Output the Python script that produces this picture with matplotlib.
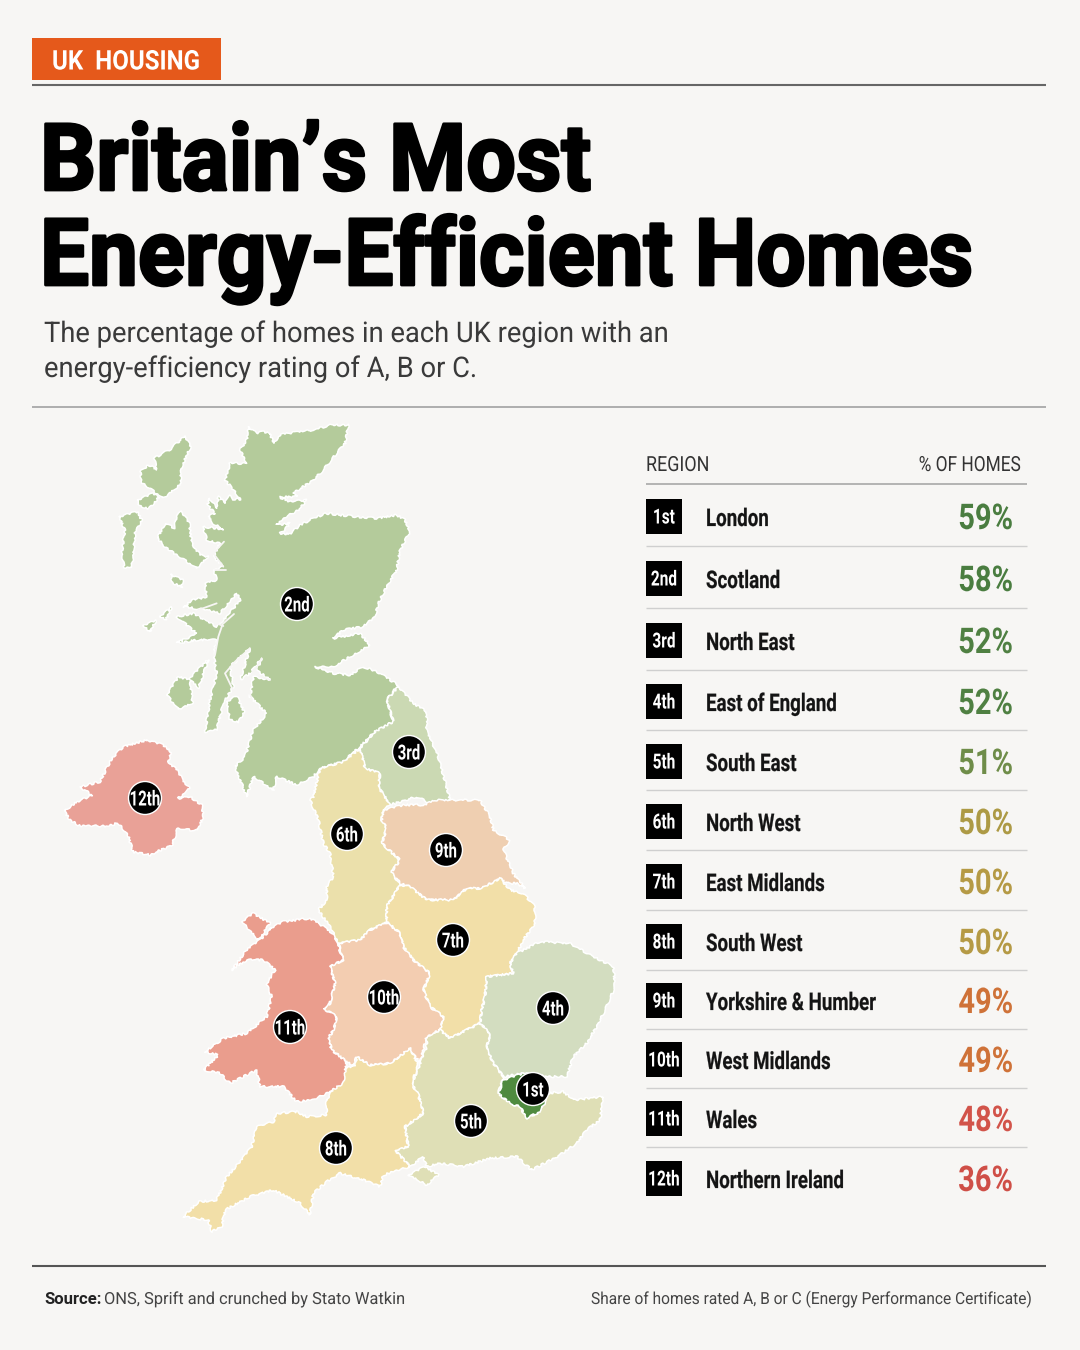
"""Britain's most energy-efficient homes: map and ranking table."""

import matplotlib
matplotlib.use("Agg")
import matplotlib.pyplot as plt
from matplotlib.patches import Circle, Polygon, Rectangle
from matplotlib.patheffects import AbstractPathEffect
from matplotlib.transforms import Affine2D

REGIONS = ["London", "Scotland", "North East", "East of England", "South East", "North West",
           "East Midlands", "South West", "Yorkshire & Humber", "West Midlands", "Wales",
           "Northern Ireland"]
RANKS = ["1st", "2nd", "3rd", "4th", "5th", "6th", "7th", "8th", "9th", "10th", "11th", "12th"]
SHARES = [59, 58, 52, 52, 51, 50, 50, 50, 49, 49, 48, 36]
SHARE_COLORS = ["#4a7d40", "#4a7d40", "#4f8042", "#4f8042", "#6f8d49", "#ad9a45", "#b59a45",
                "#b59a45", "#cf7238", "#cf7238", "#d2544a", "#cf4f47"]


def z1(pts):
    return [(50 + x / 3, 410 + y / 3) for x, y in pts]


def z2(pts):
    return [(170 + x / 3, 800 + y / 3) for x, y in pts]


# contornos del mapa, en píxeles de la imagen
SCOTLAND = z1([(595, 50), (620, 70), (640, 65), (660, 70), (670, 100), (690, 75), (740, 65), (790, 60),
               (840, 45), (895, 45), (885, 100), (860, 130), (820, 180), (790, 210), (745, 240), (730, 245),
               (740, 260), (690, 262), (720, 275), (770, 270), (745, 300), (710, 320), (680, 345), (720, 340),
               (700, 365), (690, 370), (720, 372), (750, 345), (790, 325), (830, 310), (870, 315), (920, 320),
               (980, 325), (1040, 315), (1065, 330), (1080, 365), (1050, 420), (1040, 480), (1010, 530),
               (985, 580), (975, 620), (940, 650), (880, 660), (850, 685), (900, 675), (930, 670), (960, 705),
               (900, 740), (850, 770), (795, 770), (850, 790), (900, 795), (940, 770), (980, 785), (1045, 825),
               (1010, 870), (1030, 935), (975, 965), (930, 1010), (880, 1055), (810, 1075), (790, 1100),
               (740, 1125), (680, 1100), (670, 1140), (610, 1100), (590, 1160), (555, 1070), (575, 1050),
               (585, 1040), (610, 960), (650, 910), (600, 860), (610, 800), (660, 810), (620, 780), (635, 745),
               (600, 790), (570, 810), (600, 715), (540, 770), (550, 830), (520, 880), (500, 960), (465, 965),
               (480, 870), (500, 790), (490, 730), (500, 690), (440, 690), (380, 700), (440, 670), (380, 620),
               (430, 610), (500, 650), (530, 620), (570, 570), (560, 550), (510, 610), (470, 600), (400, 590),
               (430, 570), (470, 560), (465, 520), (500, 510), (490, 480), (520, 470), (490, 440), (510, 400),
               (470, 390), (460, 350), (520, 358), (490, 340), (475, 320), (495, 310), (472, 285), (478, 265),
               (500, 295), (505, 258), (525, 280), (535, 255), (550, 268), (572, 268), (555, 245), (525, 210),
               (540, 160), (590, 160), (570, 120), (590, 90)])
SCOTLAND_ISLES = [
    z1([(405, 78), (422, 110), (395, 170), (390, 225), (340, 265), (305, 240), (272, 215), (272, 185),
        (295, 165), (320, 178), (312, 145), (360, 118)]),
    z1([(262, 270), (310, 250), (328, 260), (295, 298), (268, 285)]),
    z1([(395, 305), (418, 340), (425, 400), (450, 435), (475, 440), (440, 475), (380, 435), (350, 415),
        (322, 385), (345, 340), (375, 355), (378, 318)]),
    z1([(207, 320), (262, 305), (275, 330), (255, 370), (250, 440), (245, 472), (222, 472), (215, 430),
        (225, 360)]),
    z1([(350, 855), (385, 800), (420, 810), (428, 880), (385, 898)]),
    z1([(418, 805), (475, 748), (445, 835)]),
    z1([(530, 875), (560, 858), (582, 905), (565, 938), (538, 925)]),
    z1([(330, 618), (365, 592), (348, 628)]),
    z1([(280, 645), (318, 632), (300, 665)]),
    z1([(362, 493), (398, 510), (395, 532), (368, 518)]),
]
# entradas de mar dibujadas en blanco sobre Escocia
SEA_LOCHS = [
    z1([(552, 612), (518, 642), (505, 680), (495, 735)]),
    z1([(440, 610), (480, 632), (520, 648)]),
    z1([(600, 715), (555, 755), (525, 790), (550, 842)]),
    z1([(635, 745), (610, 790), (660, 810)]),
    z1([(610, 782), (592, 830), (604, 862)]),
    z1([(560, 800), (580, 825)]),
    z1([(522, 395), (490, 430), (520, 470)]),
    z1([(495, 480), (527, 480)]),
    z1([(500, 580), (445, 600)]),
]
NORTH_EAST = z1([(1045, 830), (1090, 880), (1130, 905), (1130, 960), (1165, 1040), (1200, 1170), (1150, 1185),
                 (1100, 1160), (1020, 1185), (985, 1130), (990, 1090), (945, 1075), (930, 1015), (975, 965),
                 (1030, 935), (1010, 870)])
NORTH_WEST = z1([(930, 1015), (945, 1075), (990, 1090), (985, 1130), (1020, 1185)]) + \
    z2([(640, 30), (635, 60), (650, 85), (635, 130), (690, 180), (665, 215), (690, 255), (650, 320), (650, 368),
        (600, 390), (570, 420), (505, 430), (480, 380), (445, 330), (470, 300), (470, 260), (490, 230),
        (480, 160), (460, 130), (445, 60), (420, 0)]) + \
    z1([(790, 1160), (810, 1075), (880, 1055)])
YORKSHIRE = z2([(640, 30), (700, 15), (760, 15), (800, 0), (930, 0), (960, 50), (970, 90), (1020, 120), (1000, 150),
                (1030, 220), (1065, 265), (1040, 250), (1010, 250), (990, 235), (935, 265), (890, 265), (850, 300),
                (770, 300), (720, 260), (690, 250), (665, 215), (690, 180), (635, 130), (650, 85), (635, 60)])
EAST_MIDLANDS = z2([(690, 255), (720, 260), (770, 300), (850, 300), (890, 265), (935, 265), (990, 235), (1020, 270),
                    (1060, 280), (1095, 320), (1095, 370), (1060, 420), (1040, 460), (1020, 490), (1030, 520),
                    (950, 530), (945, 590), (935, 630), (930, 670), (840, 715), (810, 690), (820, 650), (780, 620),
                    (760, 570), (780, 520), (730, 480), (700, 440), (690, 400), (650, 365), (650, 320)])
EAST_ENGLAND = z2([(1020, 490), (1040, 460), (1110, 425), (1200, 430), (1270, 470), (1330, 500), (1335, 560),
                   (1310, 620), (1280, 680), (1250, 730), (1210, 770), (1190, 830), (1140, 830), (1060, 820),
                   (1000, 830), (970, 790), (950, 745), (960, 700), (930, 670), (935, 630), (945, 590), (950, 530),
                   (1030, 520)])
LONDON = z2([(1000, 840), (1060, 820), (1120, 830), (1130, 900), (1110, 935), (1070, 955), (1050, 920), (1020, 910),
             (985, 880)])
SOUTH_EAST = z2([(770, 710), (810, 690), (840, 715), (930, 670), (960, 700), (950, 745), (970, 790), (1000, 830),
                 (985, 880), (1020, 910), (1050, 920), (1070, 955), (1110, 935), (1130, 880), (1180, 875),
                 (1210, 900), (1300, 890), (1290, 960), (1250, 990), (1220, 1030), (1170, 1065), (1085, 1110),
                 (1040, 1070), (960, 1075), (880, 1100), (810, 1090), (770, 1100), (760, 1070), (720, 1100),
                 (675, 1050), (715, 1040), (705, 980), (760, 940), (745, 885), (725, 850), (750, 795), (770, 740)])
WIGHT = z2([(715, 1125), (765, 1100), (805, 1125), (770, 1155)])
SOUTH_WEST = z2([(470, 900), (530, 800), (555, 800), (560, 770), (600, 795), (660, 790), (720, 745), (745, 795),
                 (725, 850), (745, 885), (760, 940), (705, 980), (715, 1040), (675, 1050), (720, 1100), (640, 1125),
                 (630, 1160), (580, 1140), (510, 1120), (470, 1145), (430, 1180), (420, 1245), (390, 1210),
                 (310, 1170), (240, 1190), (165, 1230), (155, 1280), (125, 1295), (115, 1260), (40, 1250),
                 (85, 1205), (140, 1200), (170, 1130), (215, 1080), (245, 1040), (260, 980), (310, 965), (320, 940),
                 (380, 935), (410, 950), (470, 945)])
WALES = z2([(300, 385), (340, 365), (420, 355), (470, 385), (495, 410), (520, 480), (480, 500), (495, 550),
            (480, 610), (460, 625), (500, 650), (490, 690), (475, 715), (485, 750), (530, 785), (520, 850),
            (470, 880), (430, 900), (380, 905), (340, 860), (270, 860), (260, 810), (180, 850), (150, 820),
            (100, 810), (145, 765), (105, 755), (160, 715), (230, 700), (290, 650), (305, 590), (290, 550),
            (315, 510), (280, 480), (230, 480), (185, 510), (230, 450), (270, 420), (305, 385)])
ANGLESEY = z2([(215, 365), (250, 340), (300, 370), (265, 420)])
WEST_MIDLANDS = z2([(505, 430), (570, 420), (600, 390), (650, 368), (690, 400), (700, 440), (730, 480), (780, 520),
                    (760, 570), (780, 620), (820, 650), (810, 690), (770, 710), (750, 790), (720, 745), (660, 790),
                    (600, 795), (560, 770), (550, 800), (530, 785), (485, 750), (475, 715), (490, 690), (500, 650),
                    (460, 625), (480, 610), (495, 550), (480, 500), (520, 480)])
N_IRELAND = z1([(290, 990), (340, 1005), (362, 1025), (355, 1055), (385, 1085), (405, 1120), (420, 1135), (385, 1165),
                (420, 1160), (455, 1185), (460, 1215), (445, 1260)]) + \
    [(190, 830), (178, 828), (172, 845), (150, 855), (133, 852), (128, 835), (118, 823), (108, 826), (80, 826),
     (70, 820), (64, 811), (75, 803), (92, 795), (80, 787)] + \
    z1([(150, 1115), (185, 1045), (220, 1010)])

MAP_SHAPES = [
    ([SCOTLAND] + SCOTLAND_ISLES, "#b4cb9b"),
    ([NORTH_EAST], "#cbd9b3"),
    ([NORTH_WEST], "#ebe0ab"),
    ([YORKSHIRE], "#efcfb1"),
    ([EAST_MIDLANDS], "#f2dfa8"),
    ([EAST_ENGLAND], "#d3ddc0"),
    ([SOUTH_EAST, WIGHT], "#dfdfb6"),
    ([SOUTH_WEST], "#f2dfa8"),
    ([WEST_MIDLANDS], "#f3cdb1"),
    ([WALES, ANGLESEY], "#ea9d8d"),
    ([N_IRELAND], "#e9a197"),
    ([LONDON], "#4f8a3f"),
]
# posición de cada etiqueta de rango sobre el mapa, en el orden de RANKS
BADGE_X = [533, 297, 409, 553, 471, 347, 453, 336, 446, 384, 290, 145]
BADGE_Y = [1089, 604, 752, 1008, 1121, 834, 940, 1148, 850, 997, 1027, 798]
ROW_Y = [517, 579, 641, 702, 762, 822, 882, 942, 1001, 1060, 1119, 1179]

BG = "#f7f6f4"
FONT = "Roboto"


class Squeeze(AbstractPathEffect):
    """Estrecha el texto en horizontal: no hay fuente condensada instalada."""

    def __init__(self, sx, anchor, stroke=0.0):
        super().__init__()
        self.sx = sx
        self.anchor = anchor
        self.stroke = stroke

    def draw_path(self, renderer, gc, tpath, affine, rgbFace=None):
        squeezed = affine + Affine2D().translate(-self.anchor, 0).scale(self.sx, 1).translate(self.anchor, 0)
        gc0 = renderer.new_gc()
        gc0.copy_properties(gc)
        if self.stroke:
            gc0.set_foreground(rgbFace)
            gc0.set_linewidth(self.stroke)
        renderer.draw_path(gc0, tpath, squeezed, rgbFace)
        gc0.restore()


def narrow_text(ax, x, y, s, sx, stroke=0.0, **kwargs):
    # x coincide con el píxel de pantalla porque los ejes llenan la figura
    ax.text(x, y, s, family=FONT, path_effects=[Squeeze(sx, x, stroke)], **kwargs)


def rule(ax, y, color, lw, x0=32, x1=1046):
    ax.plot([x0, x1], [y, y], color=color, lw=lw, solid_capstyle="butt")


fig = plt.figure(figsize=(10.8, 13.5), dpi=100, facecolor=BG)
ax = fig.add_axes([0, 0, 1, 1])
ax.set_xlim(0, 1080)
ax.set_ylim(1350, 0)
ax.axis("off")

# cabecera
ax.add_patch(Rectangle((32, 38), 189, 42, color="#e5591b", lw=0))
narrow_text(ax, 52, 59, "UK  HOUSING", 0.89, color="white", weight="bold", fontsize=19.5, va="center_baseline")
rule(ax, 85, "#666666", 1.5)
narrow_text(ax, 40, 190, "Britain’s Most", 0.947, stroke=2.0, weight="bold", fontsize=67, color="black",
            va="baseline")
narrow_text(ax, 40, 285, "Energy-Efficient Homes", 0.937, stroke=2.0, weight="bold", fontsize=67, color="black",
            va="baseline")
narrow_text(ax, 44, 342, "The percentage of homes in each UK region with an", 0.96, fontsize=20.5,
            color="#3a3a3a", va="baseline")
narrow_text(ax, 44, 377, "energy-efficiency rating of A, B or C.", 0.96, fontsize=20.5,
            color="#3a3a3a", va="baseline")
rule(ax, 407, "#9a9a9a", 1.1)

# mapa
for shapes, color in MAP_SHAPES:
    for pts in shapes:
        patch = Polygon(pts, closed=True, facecolor=color, edgecolor="white", lw=1.1, joinstyle="round")
        patch.set_sketch_params(scale=1.0, length=10, randomness=6)
        ax.add_patch(patch)
for pts in SEA_LOCHS:
    xs, ys = zip(*pts)
    ax.plot(xs, ys, color=BG, lw=1.3, solid_capstyle="round")
for rank, x, y in zip(RANKS, BADGE_X, BADGE_Y):
    ax.add_patch(Circle((x, y), 16.5, facecolor="black", edgecolor="white", lw=1, zorder=5))
    narrow_text(ax, x, y, rank, 0.72, color="white", weight="bold", fontsize=15, ha="center",
                va="center_baseline", zorder=6)

# tabla
narrow_text(ax, 646, 471, "REGION", 0.86, fontsize=15, color="#333333", va="baseline")
narrow_text(ax, 1021, 471, "% OF HOMES", 0.83, fontsize=15, color="#333333", ha="right", va="baseline")
rule(ax, 484, "#a8a8a8", 1.2, 646, 1027)
for i, (rank, region, share, color, y) in enumerate(zip(RANKS, REGIONS, SHARES, SHARE_COLORS, ROW_Y)):
    ax.add_patch(Rectangle((646, y - 18.5), 36, 35, color="black", lw=0))
    narrow_text(ax, 664, y - 1, rank, 0.74, color="white", weight="bold", fontsize=15, ha="center",
                va="center_baseline")
    narrow_text(ax, 706, y, region, 0.77, stroke=0.15, color="#141414", weight="bold", fontsize=17.5,
                va="center_baseline")
    narrow_text(ax, 1013, y - 1, f"{share}%", 0.82, color=color, weight="bold", fontsize=25.5, ha="right",
                va="center_baseline")
    if i < len(ROW_Y) - 1:
        rule(ax, (y + ROW_Y[i + 1]) / 2 - 2, "#cfcfcf", 1, 646, 1027)

# pie
rule(ax, 1266, "#555555", 1.5)
ax.text(44, 1304, "Source:", family=FONT, weight="bold", fontsize=12, color="#222222", va="baseline")
narrow_text(ax, 104, 1304, "ONS, Sprift and crunched by Stato Watkin", 0.985, fontsize=12, color="#444444",
            va="baseline")
narrow_text(ax, 1031, 1304, "Share of homes rated A, B or C (Energy Performance Certificate)", 0.93,
            fontsize=12, color="#444444", ha="right", va="baseline")

fig.savefig("out.png", dpi=100, facecolor=BG)
plt.close(fig)
